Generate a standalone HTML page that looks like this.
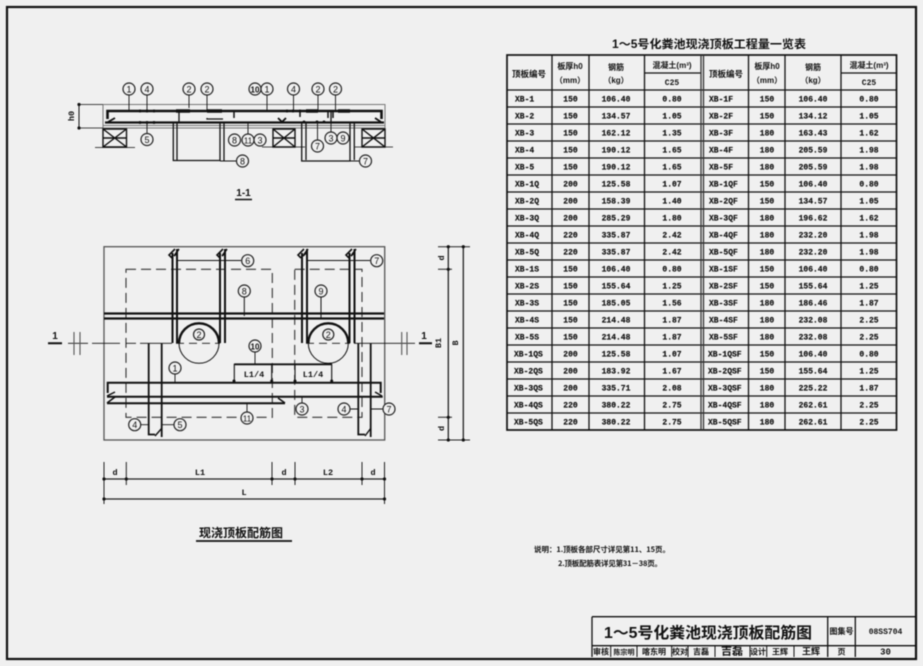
<!DOCTYPE html>
<html><head><meta charset="utf-8"><style>
html,body{margin:0;padding:0;background:#f0f0f0;width:923px;height:666px;overflow:hidden}
svg{display:block;filter:blur(.4px)}
text{fill:#111;font-family:"Liberation Sans","Noto Sans CJK SC",sans-serif}
.t text,.t{font-family:"Liberation Mono","Noto Sans CJK SC",monospace;font-size:8px;font-weight:bold;text-anchor:middle;fill:#111;stroke:#111;stroke-width:.18}
.s{text-anchor:start}
.c circle{fill:#f0f0f0;stroke:#222;stroke-width:1.2}
.c text{font-size:9px;text-anchor:middle;font-family:"Liberation Sans",sans-serif;fill:#111}
.n{font-family:"Liberation Mono",monospace;font-size:8.5px;font-weight:bold;text-anchor:middle}
.h{font-family:"Noto Sans CJK SC",sans-serif;font-weight:bold;font-size:8px;text-anchor:middle;fill:#111}
</style></head><body>
<svg width="923" height="666" viewBox="0 0 923 666" xmlns="http://www.w3.org/2000/svg">
<rect width="923" height="666" fill="#f0f0f0"/>
<rect x="7" y="7" width="909" height="652" fill="none" stroke="#111" stroke-width="2.2"/>

<!-- table -->
<text x="709" y="48" style="font-family:'Liberation Sans','Noto Sans CJK SC',sans-serif;font-weight:bold;font-size:11.5px;text-anchor:middle" textLength="194" lengthAdjust="spacingAndGlyphs">1～5号化粪池现浇顶板工程量一览表</text>
<g stroke="#111" fill="none" stroke-width="1.300">
<rect x="507" y="55" width="389.5" height="375" stroke-width="1.700"/>
<path d="M507 90H896.500M507 107H896.500M507 124H896.500M507 141H896.500M507 158H896.500M507 175H896.500M507 192H896.500M507 209H896.500M507 226H896.500M507 243H896.500M507 260H896.500M507 277H896.500M507 294H896.500M507 311H896.500M507 328H896.500M507 345H896.500M507 362H896.500M507 379H896.500M507 396H896.500M507 413H896.500M644.500 73H701M841 73H896.500"/>
<path d="M552 55V430M589 55V430M644.500 55V430M748.500 55V430M785 55V430M841 55V430"/>
<path d="M701 55V430M703.500 55V430" stroke="#333"/>
</g>
<g class="h">
<text x="529" y="77" style="font-size:8.500px">顶板编号</text>
<text x="570" y="69">板厚h0</text><text x="570" y="83" style="font-size:8px">（mm）</text>
<text x="616" y="70">钢筋</text><text x="616" y="83">（kg）</text>
<text x="672" y="68">混凝土(m³)</text>
<text x="672" y="85" style="font-family:'Liberation Mono',monospace">C25</text>
<text x="726" y="77" style="font-size:8.500px">顶板编号</text>
<text x="767" y="69">板厚h0</text><text x="767" y="83">（mm）</text>
<text x="813" y="70">钢筋</text><text x="813" y="83">（kg）</text>
<text x="869" y="68">混凝土(m³)</text>
<text x="869" y="85" style="font-family:'Liberation Mono',monospace">C25</text>
</g>
<g class="t">
<text y="101.500"><tspan class="s" x="515">XB-1</tspan><tspan x="570.500">150</tspan><tspan x="616">106.40</tspan><tspan x="672">0.80</tspan><tspan class="s" x="709">XB-1F</tspan><tspan x="767">150</tspan><tspan x="813">106.40</tspan><tspan x="869">0.80</tspan></text>
<text y="118.500"><tspan class="s" x="515">XB-2</tspan><tspan x="570.500">150</tspan><tspan x="616">134.57</tspan><tspan x="672">1.05</tspan><tspan class="s" x="709">XB-2F</tspan><tspan x="767">150</tspan><tspan x="813">134.12</tspan><tspan x="869">1.05</tspan></text>
<text y="135.500"><tspan class="s" x="515">XB-3</tspan><tspan x="570.500">150</tspan><tspan x="616">162.12</tspan><tspan x="672">1.35</tspan><tspan class="s" x="709">XB-3F</tspan><tspan x="767">180</tspan><tspan x="813">163.43</tspan><tspan x="869">1.62</tspan></text>
<text y="152.500"><tspan class="s" x="515">XB-4</tspan><tspan x="570.500">150</tspan><tspan x="616">190.12</tspan><tspan x="672">1.65</tspan><tspan class="s" x="709">XB-4F</tspan><tspan x="767">180</tspan><tspan x="813">205.59</tspan><tspan x="869">1.98</tspan></text>
<text y="169.500"><tspan class="s" x="515">XB-5</tspan><tspan x="570.500">150</tspan><tspan x="616">190.12</tspan><tspan x="672">1.65</tspan><tspan class="s" x="709">XB-5F</tspan><tspan x="767">180</tspan><tspan x="813">205.59</tspan><tspan x="869">1.98</tspan></text>
<text y="186.500"><tspan class="s" x="515">XB-1Q</tspan><tspan x="570.500">200</tspan><tspan x="616">125.58</tspan><tspan x="672">1.07</tspan><tspan class="s" x="709">XB-1QF</tspan><tspan x="767">150</tspan><tspan x="813">106.40</tspan><tspan x="869">0.80</tspan></text>
<text y="203.500"><tspan class="s" x="515">XB-2Q</tspan><tspan x="570.500">200</tspan><tspan x="616">158.39</tspan><tspan x="672">1.40</tspan><tspan class="s" x="709">XB-2QF</tspan><tspan x="767">150</tspan><tspan x="813">134.57</tspan><tspan x="869">1.05</tspan></text>
<text y="220.500"><tspan class="s" x="515">XB-3Q</tspan><tspan x="570.500">200</tspan><tspan x="616">285.29</tspan><tspan x="672">1.80</tspan><tspan class="s" x="709">XB-3QF</tspan><tspan x="767">180</tspan><tspan x="813">196.62</tspan><tspan x="869">1.62</tspan></text>
<text y="237.500"><tspan class="s" x="515">XB-4Q</tspan><tspan x="570.500">220</tspan><tspan x="616">335.87</tspan><tspan x="672">2.42</tspan><tspan class="s" x="709">XB-4QF</tspan><tspan x="767">180</tspan><tspan x="813">232.20</tspan><tspan x="869">1.98</tspan></text>
<text y="254.500"><tspan class="s" x="515">XB-5Q</tspan><tspan x="570.500">220</tspan><tspan x="616">335.87</tspan><tspan x="672">2.42</tspan><tspan class="s" x="709">XB-5QF</tspan><tspan x="767">180</tspan><tspan x="813">232.20</tspan><tspan x="869">1.98</tspan></text>
<text y="271.500"><tspan class="s" x="515">XB-1S</tspan><tspan x="570.500">150</tspan><tspan x="616">106.40</tspan><tspan x="672">0.80</tspan><tspan class="s" x="709">XB-1SF</tspan><tspan x="767">150</tspan><tspan x="813">106.40</tspan><tspan x="869">0.80</tspan></text>
<text y="288.500"><tspan class="s" x="515">XB-2S</tspan><tspan x="570.500">150</tspan><tspan x="616">155.64</tspan><tspan x="672">1.25</tspan><tspan class="s" x="709">XB-2SF</tspan><tspan x="767">150</tspan><tspan x="813">155.64</tspan><tspan x="869">1.25</tspan></text>
<text y="305.500"><tspan class="s" x="515">XB-3S</tspan><tspan x="570.500">150</tspan><tspan x="616">185.05</tspan><tspan x="672">1.56</tspan><tspan class="s" x="709">XB-3SF</tspan><tspan x="767">180</tspan><tspan x="813">186.46</tspan><tspan x="869">1.87</tspan></text>
<text y="322.500"><tspan class="s" x="515">XB-4S</tspan><tspan x="570.500">150</tspan><tspan x="616">214.48</tspan><tspan x="672">1.87</tspan><tspan class="s" x="709">XB-4SF</tspan><tspan x="767">180</tspan><tspan x="813">232.08</tspan><tspan x="869">2.25</tspan></text>
<text y="339.500"><tspan class="s" x="515">XB-5S</tspan><tspan x="570.500">150</tspan><tspan x="616">214.48</tspan><tspan x="672">1.87</tspan><tspan class="s" x="709">XB-5SF</tspan><tspan x="767">180</tspan><tspan x="813">232.08</tspan><tspan x="869">2.25</tspan></text>
<text y="356.500"><tspan class="s" x="514">XB-1QS</tspan><tspan x="570.500">200</tspan><tspan x="616">125.58</tspan><tspan x="672">1.07</tspan><tspan class="s" x="708">XB-1QSF</tspan><tspan x="767">150</tspan><tspan x="813">106.40</tspan><tspan x="869">0.80</tspan></text>
<text y="373.500"><tspan class="s" x="514">XB-2QS</tspan><tspan x="570.500">200</tspan><tspan x="616">183.92</tspan><tspan x="672">1.67</tspan><tspan class="s" x="708">XB-2QSF</tspan><tspan x="767">150</tspan><tspan x="813">155.64</tspan><tspan x="869">1.25</tspan></text>
<text y="390.500"><tspan class="s" x="514">XB-3QS</tspan><tspan x="570.500">200</tspan><tspan x="616">335.71</tspan><tspan x="672">2.08</tspan><tspan class="s" x="708">XB-3QSF</tspan><tspan x="767">180</tspan><tspan x="813">225.22</tspan><tspan x="869">1.87</tspan></text>
<text y="407.500"><tspan class="s" x="514">XB-4QS</tspan><tspan x="570.500">220</tspan><tspan x="616">380.22</tspan><tspan x="672">2.75</tspan><tspan class="s" x="708">XB-4QSF</tspan><tspan x="767">180</tspan><tspan x="813">262.61</tspan><tspan x="869">2.25</tspan></text>
<text y="424.500"><tspan class="s" x="514">XB-5QS</tspan><tspan x="570.500">220</tspan><tspan x="616">380.22</tspan><tspan x="672">2.75</tspan><tspan class="s" x="708">XB-5QSF</tspan><tspan x="767">180</tspan><tspan x="813">262.61</tspan><tspan x="869">2.25</tspan></text>
</g>

<!-- section 1-1 -->
<g fill="none" stroke="#777" stroke-width="1">
<path d="M103 104.500H385V128H103ZM103 125.500H385"/>
<path d="M78 104.500H103M78 128H103" stroke="#444"/>
<path d="M95 147.500H135M262 147H305M355 147H393" stroke="#444"/>
</g>
<g fill="none" stroke="#111" stroke-width="1.400">
<path d="M103 129H126.500V147H103ZM103 129L126.500 147M126.500 129L103 147M103 138H126.500"/>
<path d="M273 129H295V147H273ZM273 129L295 147M295 129L273 147M273 138H295"/>
<path d="M362 129H385V147H362ZM362 129L385 147M385 129L362 147M362 138H385"/>
</g>
<g fill="none" stroke="#111">
<path d="M107.500 119V111H381.500V119" stroke-width="2.600"/>
<path d="M105 122.500H384" stroke-width="2.200"/>
<path d="M108 122L115 118M282 122L278 118M282 122L286 118M381 122L375 118" stroke-width="1.800"/>
<path d="M173.300 123V160.500H220V123M177 123V160.500M224 123V160.500M179 110V122M207 118V119H223" stroke-width="1.300"/>
<path d="M301.700 123V161H350V123M306 123V160M354.300 123V160M331 110V122" stroke-width="1.300"/>
<path d="M176 111H190M207 111H222M306 111H318M338 111H350" stroke-width="3.500"/>
<path d="M234 111V118M333 111V118M300 110V117M328 111V118" stroke-width="1.500"/>
<path d="M129 95V110M147 95V110M147 122V133M189 95V108M207 95V110M267 95V110M293.500 95V110M318 95V110M335.500 95V110M248 122V134M317.500 122V140M331 122V132M350 161H359M220 161H236" stroke-width=".9"/>
<path d="M79 104.500V128" stroke-width="1"/>
</g>
<g fill="#111">
<circle cx="140" cy="111" r="1.500"/><circle cx="147" cy="111" r="1.500"/><circle cx="154" cy="111" r="1.500"/>
<circle cx="140" cy="122.500" r="1.500"/><circle cx="147" cy="122.500" r="1.500"/><circle cx="154" cy="122.500" r="1.500"/>
<circle cx="287" cy="111" r="1.500"/><circle cx="293" cy="111" r="1.500"/><circle cx="300" cy="111" r="1.500"/>
<circle cx="317" cy="122" r="1.500"/><circle cx="324" cy="122" r="1.500"/><circle cx="304" cy="122" r="1.500"/>
<circle cx="79" cy="104.500" r="1.600"/><circle cx="79" cy="128" r="1.600"/>
</g>
<text class="n" transform="translate(74 116) rotate(-90)">h0</text>
<g class="c">
<circle cx="129" cy="89" r="6"/><text x="129" y="92.500">1</text>
<circle cx="147" cy="89" r="6"/><text x="147" y="92.500">4</text>
<circle cx="189" cy="89" r="6"/><text x="189" y="92.500">2</text>
<circle cx="207" cy="89" r="6"/><text x="207" y="92.500">2</text>
<circle cx="255" cy="89" r="6"/><text x="255" y="92.500" style="font-weight:bold;font-size:8px">10</text>
<circle cx="267" cy="89" r="6"/><text x="267" y="92.500">1</text>
<circle cx="293.500" cy="89" r="6"/><text x="293.500" y="92.500">4</text>
<circle cx="318" cy="89" r="6"/><text x="318" y="92.500">2</text>
<circle cx="335.500" cy="89" r="6"/><text x="335.500" y="92.500">2</text>
<circle cx="147" cy="139.500" r="6"/><text x="147" y="143">5</text>
<circle cx="234.500" cy="140" r="6"/><text x="234.500" y="143.500">8</text>
<circle cx="248" cy="140" r="6"/><text x="248" y="143.500" style="font-size:8px">11</text>
<circle cx="260" cy="140" r="6"/><text x="260" y="143.500">3</text>
<circle cx="331" cy="138" r="6"/><text x="331" y="141.500">3</text>
<circle cx="343" cy="138" r="6"/><text x="343" y="141.500">9</text>
<circle cx="317.500" cy="146" r="6"/><text x="317.500" y="149.500">7</text>
<circle cx="242.500" cy="161" r="6"/><text x="242.500" y="164.500">8</text>
<circle cx="365.500" cy="161" r="6"/><text x="365.500" y="164.500">7</text>
</g>
<text class="n" x="243.500" y="196" style="font-family:'Liberation Sans',sans-serif;font-size:10px">1-1</text>
<path d="M235 199.500H252" stroke="#111" stroke-width="1.400"/>

<!-- plan -->
<rect x="104" y="246.700" width="280.700" height="193.300" fill="none" stroke="#555" stroke-width="1.300"/>
<g fill="none" stroke="#333" stroke-width="1.100" stroke-dasharray="10 5">
<rect x="126" y="269.300" width="146.300" height="148"/>
<rect x="294.700" y="269.300" width="67.300" height="148"/>
</g>
<g fill="none" stroke="#111">
<path d="M68 343.300H88M92 343.300H120M126 343.300H136M140 343.300H172M354 343.300H415" stroke-width=".9"/>
<path d="M176 343.300H220M306 343.300H350" stroke-width=".9" stroke-dasharray="8 5"/>
<path d="M48 343.300H62M419 343.300H432" stroke-width="2"/>
<path d="M74 332V355M80 332V355M401.700 332V355M407 332V355" stroke="#555" stroke-width="1.100"/>
<path d="M104 313.500H384M104 318.500H384" stroke-width="2.200"/>
<path d="M172.500 253V343M177 249V343M220 253V343M225 249V343M302 253V343M307 249V343M349.500 253V343M354.500 249V343" stroke-width="2"/>
<path d="M172 258L169 255L175 249M177 253L174 256L179 249M220 258L217 255L223 249M225 253L222 256L227 249M301 258L298 255L304 249M306 253L303 256L308 249M349 258L346 255L352 249M354 253L351 256L356 249" stroke-width="1.600"/>
<path d="M177 260.500H241M307 260.500H370M244.300 297V316M321 297V318" stroke-width="1"/>
<circle cx="199" cy="343.300" r="20" stroke-width="1"/>
<circle cx="328.300" cy="343.300" r="20" stroke-width="1"/>
<path d="M179 343.300A20 20 0 0 1 219 343.300M308.300 343.300A20 20 0 0 1 348.300 343.300" stroke-width="2.400"/>
<path d="M148.700 343V434.500H155M161.700 343V437" stroke-width="1.800"/>
<path d="M358.300 343V434.500H365M370.700 343V437" stroke-width="1.800"/>
<path d="M155 436L162 428M365 436L371 428" stroke-width="1.400"/>
<path d="M107.700 393V382.700H380.700V393" stroke-width="2"/>
<path d="M107 396.700H382.700M107 403.300H285" stroke-width="2"/>
<path d="M107 396L115 392M107 403L115 397M382 396L375 392M285 403L278 398" stroke-width="1.500"/>
<path d="M234.300 380V364.300H331.700V380M271.700 364.300V380M295 364.300V380" stroke-width="1.100"/>
<path d="M234.300 364.300H331.700" stroke-width="1.800"/>
<path d="M255 352V364M175 374V382M247 403V412M141 424.700H148M161.700 424.700H174M302 396V403M350 409H358M370 409H383" stroke-width=".9"/>
</g>
<g fill="#111">
<circle cx="234" cy="381" r="1.500"/><circle cx="271.700" cy="381" r="1.500"/><circle cx="295" cy="381" r="1.500"/><circle cx="331.700" cy="381" r="1.500"/>
</g>
<g class="c">
<circle cx="247.700" cy="260.700" r="6"/><text x="247.700" y="264.200">6</text>
<circle cx="244.300" cy="291" r="6"/><text x="244.300" y="294.500">8</text>
<circle cx="199" cy="334.500" r="5.500"/><text x="199" y="338">2</text>
<circle cx="255" cy="346" r="6"/><text x="255" y="349.500" style="font-size:8px;font-weight:bold">10</text>
<circle cx="175" cy="368" r="6"/><text x="175" y="371.500">1</text>
<circle cx="247" cy="418" r="6"/><text x="247" y="421.500" style="font-size:8px">11</text>
<circle cx="134.700" cy="424.700" r="6"/><text x="134.700" y="428.200">4</text>
<circle cx="180" cy="424.700" r="6"/><text x="180" y="428.200">5</text>
<circle cx="321" cy="291" r="6"/><text x="321" y="294.500">9</text>
<circle cx="328.300" cy="334.500" r="5.500"/><text x="328.300" y="338">2</text>
<circle cx="376.700" cy="260.700" r="6"/><text x="376.700" y="264.200">7</text>
<circle cx="302" cy="409" r="6"/><text x="302" y="412.500">3</text>
<circle cx="344" cy="409" r="6"/><text x="344" y="412.500">4</text>
<circle cx="389" cy="409" r="6"/><text x="389" y="412.500">7</text>
</g>
<text class="n" x="254" y="377">L1/4</text>
<text class="n" x="313" y="377">L1/4</text>
<text x="55" y="339" style="font-size:10px;font-weight:bold;text-anchor:middle;font-family:'Liberation Sans',sans-serif">1</text>
<text x="424" y="339" style="font-size:10px;font-weight:bold;text-anchor:middle;font-family:'Liberation Sans',sans-serif">1</text>

<!-- right dims -->
<g fill="none" stroke="#222" stroke-width="1">
<path d="M448.300 246.700V440M463.300 246.700V440" stroke-width="1.300"/>
<path d="M438 246.700H470M438 440H470M438 269.300H452M438 417.300H452"/>
</g>
<g fill="#111">
<circle cx="448.300" cy="246.700" r="1.600"/><circle cx="463.300" cy="246.700" r="1.600"/><circle cx="448.300" cy="269.300" r="1.600"/><circle cx="448.300" cy="417.300" r="1.600"/><circle cx="448.300" cy="440" r="1.600"/><circle cx="463.300" cy="440" r="1.600"/>
</g>
<text class="n" transform="translate(444 258) rotate(-90)">d</text>
<text class="n" transform="translate(444 428.500) rotate(-90)">d</text>
<text class="n" transform="translate(441 343) rotate(-90)">B1</text>
<text class="n" transform="translate(458 343) rotate(-90)">B</text>

<!-- bottom dims -->
<g fill="none" stroke="#222" stroke-width="1">
<path d="M104 479H384.500M104 499H384.500" stroke-width="1.300"/>
<path d="M104 462V504M126.300 462V485M272 462V485M295 462V485M362 462V485M384.500 462V504"/>
</g>
<g fill="#111">
<circle cx="104" cy="479" r="1.600"/><circle cx="126.300" cy="479" r="1.600"/><circle cx="272" cy="479" r="1.600"/><circle cx="295" cy="479" r="1.600"/><circle cx="362" cy="479" r="1.600"/><circle cx="384.500" cy="479" r="1.600"/><circle cx="104" cy="499" r="1.600"/><circle cx="384.500" cy="499" r="1.600"/>
</g>
<text class="n" x="115" y="475">d</text>
<text class="n" x="200" y="475">L1</text>
<text class="n" x="284" y="475">d</text>
<text class="n" x="328" y="475">L2</text>
<text class="n" x="373" y="475">d</text>
<text class="n" x="244" y="495">L</text>
<text x="241" y="537" style="font-family:'Noto Sans CJK SC',sans-serif;font-weight:bold;font-size:12px;text-anchor:middle">现浇顶板配筋图</text>
<path d="M196 541H292" stroke="#111" stroke-width="1.800"/>

<!-- notes -->
<text x="534" y="552" style="font-family:'Noto Sans CJK SC',sans-serif;font-weight:bold;font-size:7.500px" textLength="136">说明：1.顶板各部尺寸详见第11、15页。</text>
<text x="558" y="566" style="font-family:'Noto Sans CJK SC',sans-serif;font-weight:bold;font-size:7.500px" textLength="104">2.顶板配筋表详见第31－38页。</text>

<!-- title block -->
<g fill="none" stroke="#111" stroke-width="1.300">
<path d="M592 616.700H916M592 616.700V657M592 645.700H916M827.700 616.700V657M855.300 616.700V657"/>
<path d="M610.700 645.700V657M637 645.700V657M671.700 645.700V657M688 645.700V657M715 645.700V657M750 645.700V657M766.700 645.700V657M794 645.700V657" stroke-width="1"/>
</g>
<text x="708" y="638" style="font-family:'Liberation Sans','Noto Sans CJK SC',sans-serif;font-weight:bold;font-size:15.500px;text-anchor:middle" textLength="208" lengthAdjust="spacingAndGlyphs">1～5号化粪池现浇顶板配筋图</text>
<g class="h">
<text x="841.500" y="634">图集号</text>
<text x="885.500" y="634" style="font-family:'Liberation Mono',monospace">08SS704</text>
<text x="601" y="654.500">审核</text>
<text x="624" y="654.500" style="font-size:7px">陈宗明</text>
<text x="654" y="654.500" style="font-size:8px">喀东明</text>
<text x="680" y="654.500">校对</text>
<text x="701" y="654.500">吉磊</text>
<text x="732" y="654.500" style="font-size:11px">吉磊</text>
<text x="758" y="654.500">设计</text>
<text x="780" y="654.500">王辉</text>
<text x="811" y="654.500" style="font-size:9px">王辉</text>
<text x="841.500" y="654.500">页</text>
<text x="885.500" y="654.500" style="font-family:'Liberation Mono',monospace;font-size:9px">30</text>
</g>
</svg>
</body></html>
